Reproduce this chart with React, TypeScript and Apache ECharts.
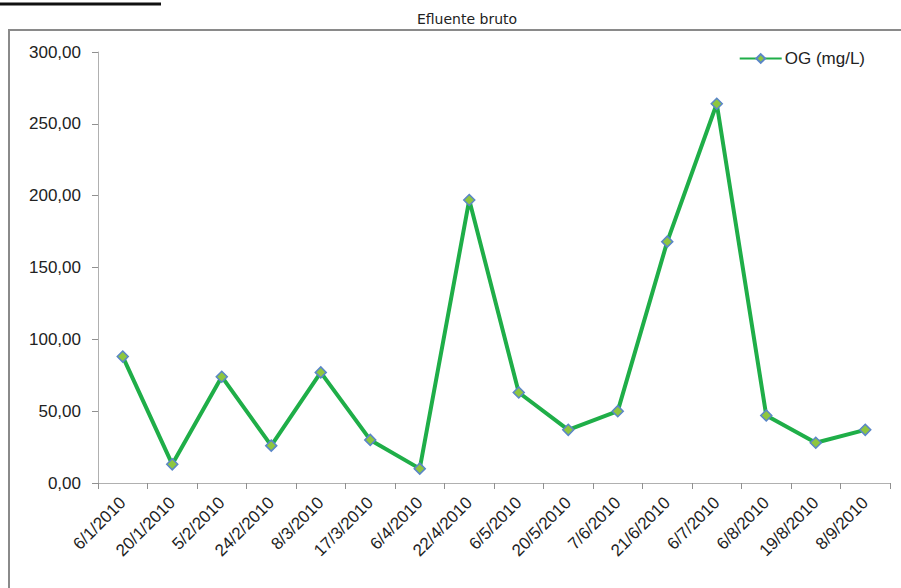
import React, { useEffect, useRef } from "react";
import * as echarts from "echarts";

const categories = [
  "6/1/2010", "20/1/2010", "5/2/2010", "24/2/2010", "8/3/2010", "17/3/2010",
  "6/4/2010", "22/4/2010", "6/5/2010", "20/5/2010", "7/6/2010", "21/6/2010",
  "6/7/2010", "6/8/2010", "19/8/2010", "8/9/2010",
];
const ogValues = [88, 13, 74, 26, 77, 30, 10, 197, 63, 37, 50, 168, 264, 47, 28, 37];
const seriesName = "OG (mg/L)";
const chartTitle = "Efluente bruto";

export default function App() {
  const ref = useRef<HTMLDivElement>(null);
  useEffect(() => {
    if (!ref.current) return;
    const chart = echarts.init(ref.current, null, { renderer: "svg" });
    chart.setOption({
      animation: false,
      backgroundColor: "#ffffff",
      title: {
        text: chartTitle,
        left: 462,
        top: 7,
        textAlign: "center",
        textStyle: { fontFamily: "DejaVu Sans", fontSize: 14, fontWeight: "normal", color: "#222" },
      },
      graphic: [
        {
          type: "rect",
          shape: { x: 9, y: 30, width: 900, height: 570 },
          style: { fill: "none", stroke: "#8a8a8a", lineWidth: 2 },
          silent: true,
        },
        {
          type: "line",
          shape: { x1: 0, y1: 4, x2: 161, y2: 4 },
          style: { stroke: "#111", lineWidth: 3 },
          silent: true,
        },
      ],
      legend: {
        data: [seriesName],
        right: 31,
        top: 45,
        itemWidth: 42,
        itemHeight: 11,
        itemGap: 4,
        textStyle: { fontFamily: "Liberation Sans", fontSize: 17, color: "#222", padding: [0, 0, 0, -2] },
      },
      grid: { left: 98, right: 11, top: 52, bottom: 105, containLabel: false },
      xAxis: {
        type: "category",
        data: categories,
        boundaryGap: true,
        axisLine: { lineStyle: { color: "#b0b0b0", width: 1 } },
        axisTick: { show: true, alignWithLabel: false, length: 6, lineStyle: { color: "#909090" } },
        axisLabel: {
          rotate: 45,
          interval: 0,
          margin: 17,
          fontFamily: "Liberation Sans",
          fontSize: 17,
          color: "#222",
        },
      },
      yAxis: {
        type: "value",
        min: 0,
        max: 300,
        interval: 50,
        axisLine: { show: true, lineStyle: { color: "#b0b0b0", width: 1 } },
        axisTick: { show: true, length: 6, lineStyle: { color: "#909090" } },
        splitLine: { show: false },
        axisLabel: {
          margin: 17,
          fontFamily: "Liberation Sans",
          fontSize: 17,
          color: "#222",
          formatter: (v: number) => v.toFixed(2).replace(".", ","),
        },
      },
      series: [
        {
          name: seriesName,
          type: "line",
          data: ogValues,
          symbol: "diamond",
          symbolSize: 11,
          lineStyle: { color: "#1fae48", width: 4 },
          itemStyle: { color: "#8ec63f", borderColor: "#5a86c8", borderWidth: 1.5 },
        },
      ],
    });
    return () => chart.dispose();
  }, []);
  return (
    <div
      ref={ref}
      style={{ position: "fixed", left: 0, top: 0, width: 901, height: 588 }}
    />
  );
}
